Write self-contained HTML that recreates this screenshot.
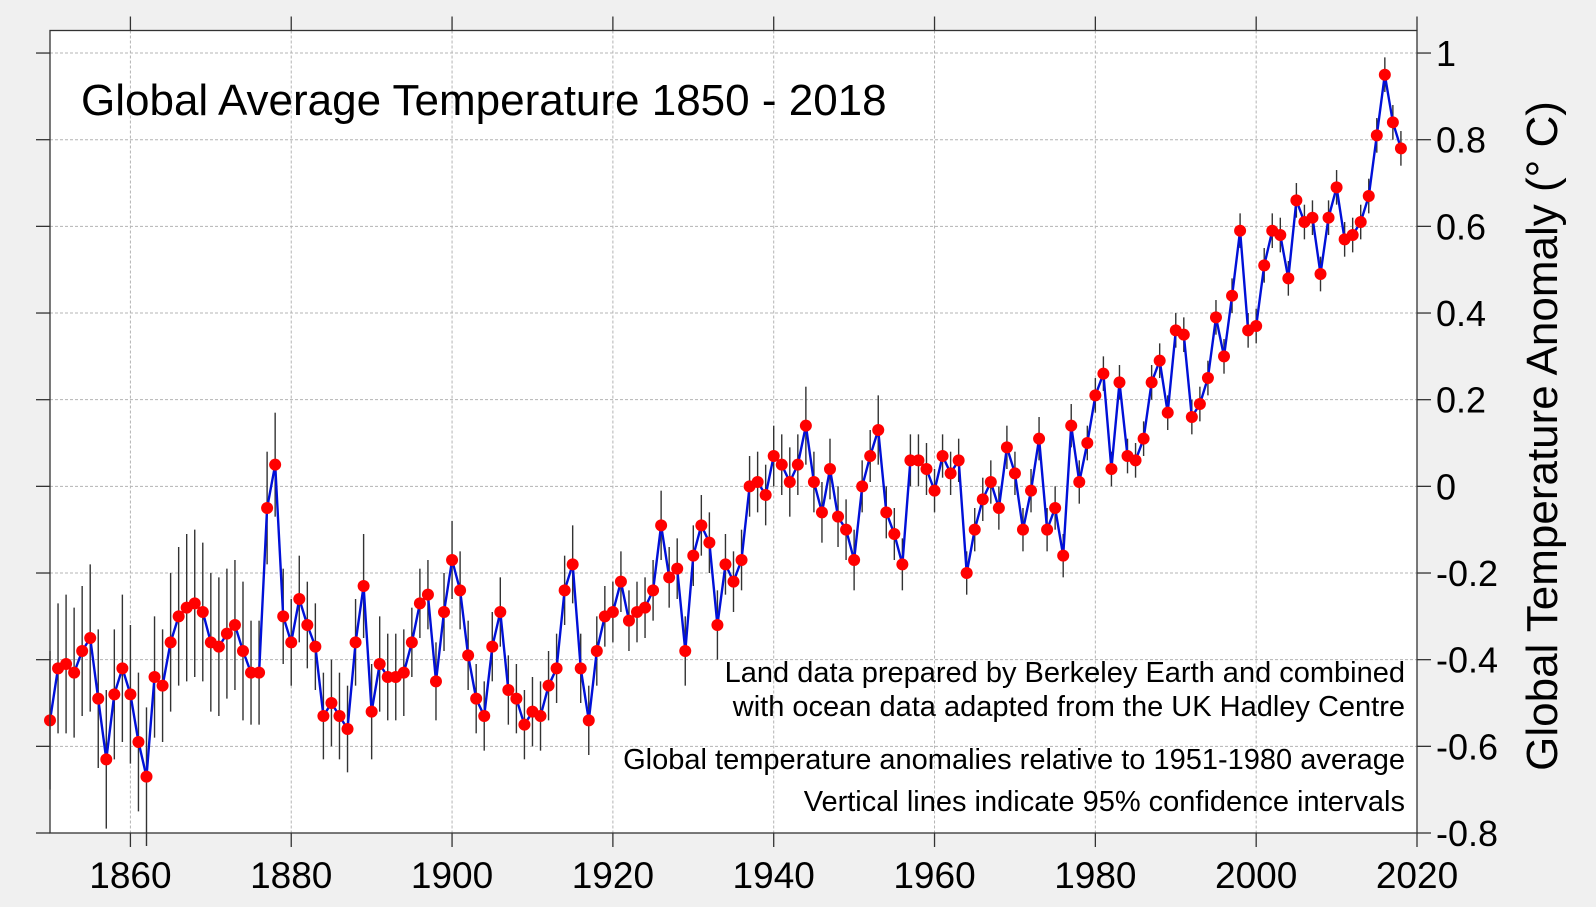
<!DOCTYPE html>
<html><head><meta charset="utf-8"><style>
html,body{margin:0;padding:0;background:#f0f0f0;}
svg{display:block;font-family:"Liberation Sans",Arial,sans-serif;}
</style></head><body>
<svg id="chart" width="1596" height="907" viewBox="0 0 1596 907">
<rect x="0" y="0" width="1596" height="907" fill="#f0f0f0"/>
<rect x="50" y="30.5" width="1367" height="802.5" fill="#ffffff"/>
<g id="grid"></g>
<g id="errs"></g>
<g id="series"></g>
<rect x="50" y="30.5" width="1367" height="802.5" fill="none" stroke="#333" stroke-width="1.3"/>
<g id="axes"></g>
<text x="81" y="115" font-size="44" fill="#000">Global Average Temperature 1850 - 2018</text>
<g font-size="29" text-anchor="end" fill="#000">
<text x="1405" y="682">Land data prepared by Berkeley Earth and combined</text>
<text x="1405" y="716">with ocean data adapted from the UK Hadley Centre</text>
<text x="1405" y="769">Global temperature anomalies relative to 1951-1980 average</text>
<text x="1405" y="811">Vertical lines indicate 95% confidence intervals</text>
</g>
<text transform="translate(1557,436) rotate(-90)" font-size="44" text-anchor="middle" fill="#000">Global Temperature Anomaly (° C)</text>
</svg>
<script>
const startYear = 1850;
const anomalies = [-0.54,-0.42,-0.41,-0.43,-0.38,-0.35,-0.49,-0.63,-0.48,-0.42,
-0.48,-0.59,-0.67,-0.44,-0.46,-0.36,-0.30,-0.28,-0.27,-0.29,
-0.36,-0.37,-0.34,-0.32,-0.38,-0.43,-0.43,-0.05,0.05,-0.30,
-0.36,-0.26,-0.32,-0.37,-0.53,-0.50,-0.53,-0.56,-0.36,-0.23,
-0.52,-0.41,-0.44,-0.44,-0.43,-0.36,-0.27,-0.25,-0.45,-0.29,
-0.17,-0.24,-0.39,-0.49,-0.53,-0.37,-0.29,-0.47,-0.49,-0.55,
-0.52,-0.53,-0.46,-0.42,-0.24,-0.18,-0.42,-0.54,-0.38,-0.30,
-0.29,-0.22,-0.31,-0.29,-0.28,-0.24,-0.09,-0.21,-0.19,-0.38,
-0.16,-0.09,-0.13,-0.32,-0.18,-0.22,-0.17,0.00,0.01,-0.02,
0.07,0.05,0.01,0.05,0.14,0.01,-0.06,0.04,-0.07,-0.10,
-0.17,0.00,0.07,0.13,-0.06,-0.11,-0.18,0.06,0.06,0.04,
-0.01,0.07,0.03,0.06,-0.20,-0.10,-0.03,0.01,-0.05,0.09,
0.03,-0.10,-0.01,0.11,-0.10,-0.05,-0.16,0.14,0.01,0.10,
0.21,0.26,0.04,0.24,0.07,0.06,0.11,0.24,0.29,0.17,
0.36,0.35,0.16,0.19,0.25,0.39,0.30,0.44,0.59,0.36,
0.37,0.51,0.59,0.58,0.48,0.66,0.61,0.62,0.49,0.62,
0.69,0.57,0.58,0.61,0.67,0.81,0.95,0.84,0.78];
const uncertainty = [0.16,0.15,0.16,0.15,0.15,0.17,0.16,0.16,0.15,0.17,
0.16,0.16,0.16,0.14,0.13,0.16,0.16,0.17,0.17,0.16,
0.16,0.16,0.15,0.15,0.16,0.12,0.12,0.13,0.12,0.11,
0.10,0.10,0.10,0.10,0.10,0.10,0.10,0.10,0.10,0.12,
0.11,0.11,0.10,0.10,0.10,0.08,0.08,0.08,0.09,0.09,
0.09,0.09,0.08,0.08,0.08,0.08,0.08,0.08,0.08,0.08,
0.08,0.08,0.08,0.08,0.08,0.09,0.08,0.08,0.08,0.07,
0.07,0.07,0.07,0.07,0.07,0.07,0.08,0.07,0.07,0.08,
0.07,0.07,0.07,0.08,0.07,0.07,0.07,0.07,0.07,0.07,
0.07,0.07,0.08,0.07,0.09,0.07,0.07,0.07,0.07,0.07,
0.07,0.06,0.06,0.08,0.06,0.06,0.06,0.06,0.06,0.06,
0.05,0.05,0.05,0.05,0.05,0.05,0.05,0.05,0.05,0.05,
0.05,0.05,0.05,0.05,0.05,0.05,0.05,0.05,0.05,0.04,
0.04,0.04,0.04,0.04,0.04,0.04,0.04,0.04,0.04,0.04,
0.04,0.04,0.04,0.04,0.04,0.04,0.04,0.04,0.04,0.04,
0.04,0.04,0.04,0.04,0.04,0.04,0.04,0.04,0.04,0.04,
0.04,0.04,0.04,0.04,0.04,0.04,0.04,0.04,0.04];
const xTicks = [1860,1880,1900,1920,1940,1960,1980,2000,2020];
const yTicks = [-0.8,-0.6,-0.4,-0.2,0,0.2,0.4,0.6,0.8,1];
const yTickLabels = ["-0.8","-0.6","-0.4","-0.2","0","0.2","0.4","0.6","0.8","1"];

const NS = "http://www.w3.org/2000/svg";
const X0 = 50, X1 = 1417, Y0 = 833, Y1 = 30.5;
const xMin = 1850, xMax = 2020, yMin = -0.8, yMax = 1.052;
function xs(v){ return X0 + (v - xMin) / (xMax - xMin) * (X1 - X0); }
function ys(v){ return Y0 - (v - yMin) / (yMax - yMin) * (Y0 - Y1); }
function mk(tag, attrs, parent){ const e = document.createElementNS(NS, tag); for (const k in attrs) e.setAttribute(k, attrs[k]); parent.appendChild(e); return e; }

const grid = document.getElementById('grid');
const axes = document.getElementById('axes');
xTicks.forEach(t => {
  const x = xs(t);
  if (t < xMax) {
    const g = mk('line', {x1:x, y1:Y1, x2:x, y2:Y0, stroke:'#b4b4b4', 'stroke-width':1, 'stroke-dasharray':'3,2'}, grid);
    
    
  }
  const tb = mk('line', {x1:x, y1:Y0, x2:x, y2:Y0+14, stroke:'#333', 'stroke-width':1.3}, axes);
  
  
  const tt = mk('line', {x1:x, y1:Y1, x2:x, y2:Y1-14, stroke:'#333', 'stroke-width':1.3}, axes);
  
  
  const lb = mk('text', {x:x, y:888, 'font-size':37, 'text-anchor':'middle', fill:'#000'}, axes);
  lb.textContent = String(t);
  
  
});
yTicks.forEach((t, i) => {
  const y = ys(t);
  const g = mk('line', {x1:X0, y1:y, x2:X1, y2:y, stroke:'#b4b4b4', 'stroke-width':1, 'stroke-dasharray':'3,2'}, grid);
  
  
  const tl = mk('line', {x1:X0-14, y1:y, x2:X0, y2:y, stroke:'#333', 'stroke-width':1.3}, axes);
  
  
  const tr = mk('line', {x1:X1, y1:y, x2:X1+14, y2:y, stroke:'#333', 'stroke-width':1.3}, axes);
  
  
  const lb = mk('text', {x:1436, y:y+13, 'font-size':36, fill:'#000'}, axes);
  lb.textContent = yTickLabels[i];
  
  
});

const errs = document.getElementById('errs');
const series = document.getElementById('series');
let pts = [];
anomalies.forEach((v, i) => {
  const x = xs(startYear + i);
  const e = mk('line', {x1:x, y1:ys(v - uncertainty[i]), x2:x, y2:ys(v + uncertainty[i]), stroke:'#333', 'stroke-width':1.4}, errs);
  
  
  pts.push(x.toFixed(1) + ',' + ys(v).toFixed(1));
});
const line = mk('polyline', {points:pts.join(' '), fill:'none', stroke:'#0010d8', 'stroke-width':2.4}, series);


anomalies.forEach((v, i) => {
  const c = mk('circle', {cx:xs(startYear + i), cy:ys(v), r:6, fill:'#ff0000'}, series);
  
  
});
</script>
</body></html>
